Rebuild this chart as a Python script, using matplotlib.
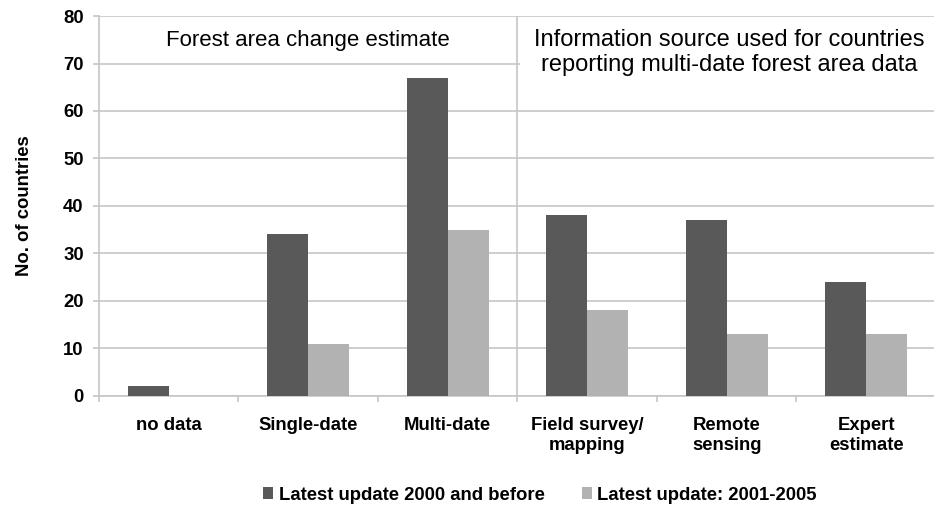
import numpy as np
import matplotlib
matplotlib.use("Agg")
import matplotlib.pyplot as plt
from matplotlib.patches import Rectangle

plt.rcParams['font.family'] = ['Liberation Sans', 'DejaVu Sans']

kategorien = ["no data", "Single-date", "Multi-date",
              "Field survey/\nmapping", "Remote\nsensing", "Expert\nestimate"]
bis2000 = [2, 34, 67, 38, 37, 24]
ab2001 = [0, 11, 35, 18, 13, 13]
serien = ["Latest update 2000 and before", "Latest update: 2001-2005"]

dunkel = "#595959"
hell = "#b2b2b2"
gitter = "#c6c6c6"

fig = plt.figure(figsize=(9.34, 5.08), dpi=100)
ax = fig.add_axes([0.106, 0.2205, 0.896, 0.748])

x = np.arange(len(kategorien))
b = 0.295
ax.bar(x - b / 2, bis2000, b, color=dunkel, label=serien[0], zorder=3)
ax.bar(x + b / 2, ab2001, b, color=hell, label=serien[1], zorder=3)

ax.set_xlim(-0.5, len(kategorien) - 0.5)
ax.set_ylim(0, 80)
ax.set_yticks(np.arange(0, 81, 10))
ax.yaxis.grid(True, color=gitter, linewidth=1.2, zorder=0)
ax.axvline(2.5, color=gitter, linewidth=1.2, zorder=1)

# weisser Textkasten rechts verdeckt die 70er Gitterlinie
ax.add_patch(Rectangle((2.52, 60.7), 3.0, 18.9, facecolor="white",
                       edgecolor="none", zorder=2))

for s in ["top", "right"]:
    ax.spines[s].set_visible(False)
ax.spines["left"].set_color(gitter)
ax.spines["left"].set_linewidth(1.2)
ax.spines["bottom"].set_color(gitter)
ax.spines["bottom"].set_linewidth(1.2)

# Ticks zwischen den Kategorien, Beschriftung in der Mitte
ax.set_xticks(np.arange(-0.5, len(kategorien), 1.0))
ax.set_xticklabels([])
ax.tick_params(axis="x", length=4, color=gitter, width=1.2)
ax.set_xticks(x, minor=True)
ax.set_xticklabels(kategorien, minor=True, fontsize=13.3, fontweight="bold",
                   linespacing=1.28, va="top")
ax.tick_params(axis="x", which="minor", length=0, pad=15)
ax.tick_params(axis="y", length=4, color=gitter, width=1.2, pad=7)
for t in ax.get_yticklabels():
    t.set_fontsize(13.3)
    t.set_fontweight("bold")

ax.set_ylabel("No. of countries", fontsize=13.3, fontweight="bold", labelpad=22)

ax.text(1.0, 74.9, "Forest area change estimate", ha="center", va="center",
        fontsize=16, zorder=4)
ax.text(4.02, 72.3, "Information source used for countries\nreporting multi-date forest area data",
        ha="center", va="center", fontsize=17, linespacing=1.13, zorder=4)

fig.legend(loc="lower center", bbox_to_anchor=(0.578, -0.024), ncol=2, frameon=False,
           prop={"size": 13.3, "weight": "bold"}, handlelength=0.55, handleheight=0.55,
           handletextpad=0.3, columnspacing=2.0)

fig.savefig("out.png", dpi=100)
